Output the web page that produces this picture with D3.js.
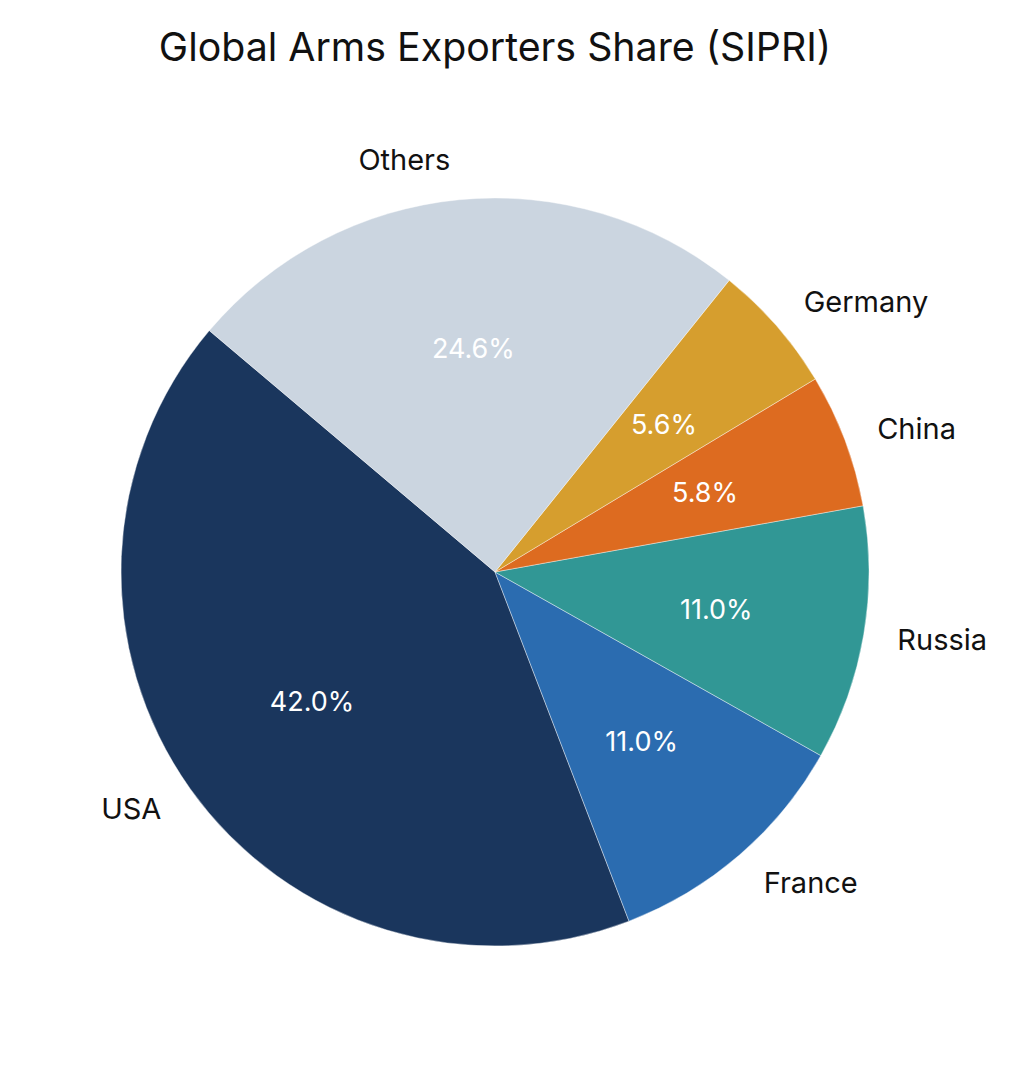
<!DOCTYPE html>
<html>
<head>
<meta charset="utf-8">
<script src="https://cdn.jsdelivr.net/npm/d3@7"></script>
<style>
  body { margin: 0; background: #fff; }
  svg text { font-family: Inter, "Open Sans", sans-serif; }
</style>
</head>
<body>
<svg id="grafico" width="1015" height="1068"></svg>
<script>
// Participação nas exportações globais de armas (SIPRI), em %
const paises  = ["USA", "France", "Russia", "China", "Germany", "Others"];
const valores = [42.0, 11.0, 11.0, 5.8, 5.6, 24.6];
const cores   = ["#1A365D", "#2B6CB0", "#319795", "#DD6B20", "#D69E2E", "#CBD5E0"];

const width = 1015, height = 1068;
const cx = 495, cy = 572, raio = 374;

const svg = d3.select("#grafico");

svg.append("text")
    .attr("x", 495)
    .attr("y", 61)
    .attr("text-anchor", "middle")
    .attr("font-size", 39.3)
    .attr("fill", "#111")
    .text("Global Arms Exporters Share (SIPRI)");

const dados = paises.map((p, i) => ({ pais: p, valor: valores[i], cor: cores[i] }));

// sentido anti-horário, primeira fatia começando em -49.8°
const inicio = -49.8 * Math.PI / 180;
const pie = d3.pie()
    .sort(null)
    .value(d => d.valor)
    .startAngle(inicio)
    .endAngle(inicio - 2 * Math.PI);

const arco = d3.arc().innerRadius(0).outerRadius(raio);
const arcoRotulo = d3.arc().innerRadius(raio * 0.6).outerRadius(raio * 0.6);

const g = svg.append("g").attr("transform", `translate(${cx},${cy})`);
const fatias = pie(dados);

g.selectAll("path.fatia")
    .data(fatias)
    .join("path")
    .attr("class", "fatia")
    .attr("d", arco)
    .attr("fill", d => d.data.cor)
    .attr("stroke", "#fff")
    .attr("stroke-width", 0.4);

g.selectAll("text.pct")
    .data(fatias)
    .join("text")
    .attr("class", "pct")
    .attr("transform", d => `translate(${arcoRotulo.centroid(d)})`)
    .attr("text-anchor", "middle")
    .attr("dy", "0.35em")
    .attr("font-size", 27)
    .attr("fill", "#fff")
    .text(d => d.data.valor.toFixed(1) + "%");

// rótulos externos no estilo plotly
const rExt = raio + 28;
g.selectAll("text.nome")
    .data(fatias)
    .join("text")
    .attr("class", "nome")
    .attr("text-anchor", "middle")
    .attr("dy", "0.35em")
    .attr("font-size", 29)
    .attr("fill", "#111")
    .text(d => d.data.pais)
    .each(function(d) {
        const meio = (d.startAngle + d.endAngle) / 2;
        const x = rExt * Math.sin(meio), y = -rExt * Math.cos(meio);
        const bb = this.getBBox();
        let dx = bb.width / 2, dy = 12;
        if (x < 0) dx *= -1;
        if (y < 0) dy *= -1;
        const tx = x + dx + Math.abs(dy) * (dx > 0 ? 1 : -1) / 2;
        const ty = y + dy / (1 + x * x / (y * y));
        d3.select(this).attr("x", tx).attr("y", ty);
    });
</script>
</body>
</html>
